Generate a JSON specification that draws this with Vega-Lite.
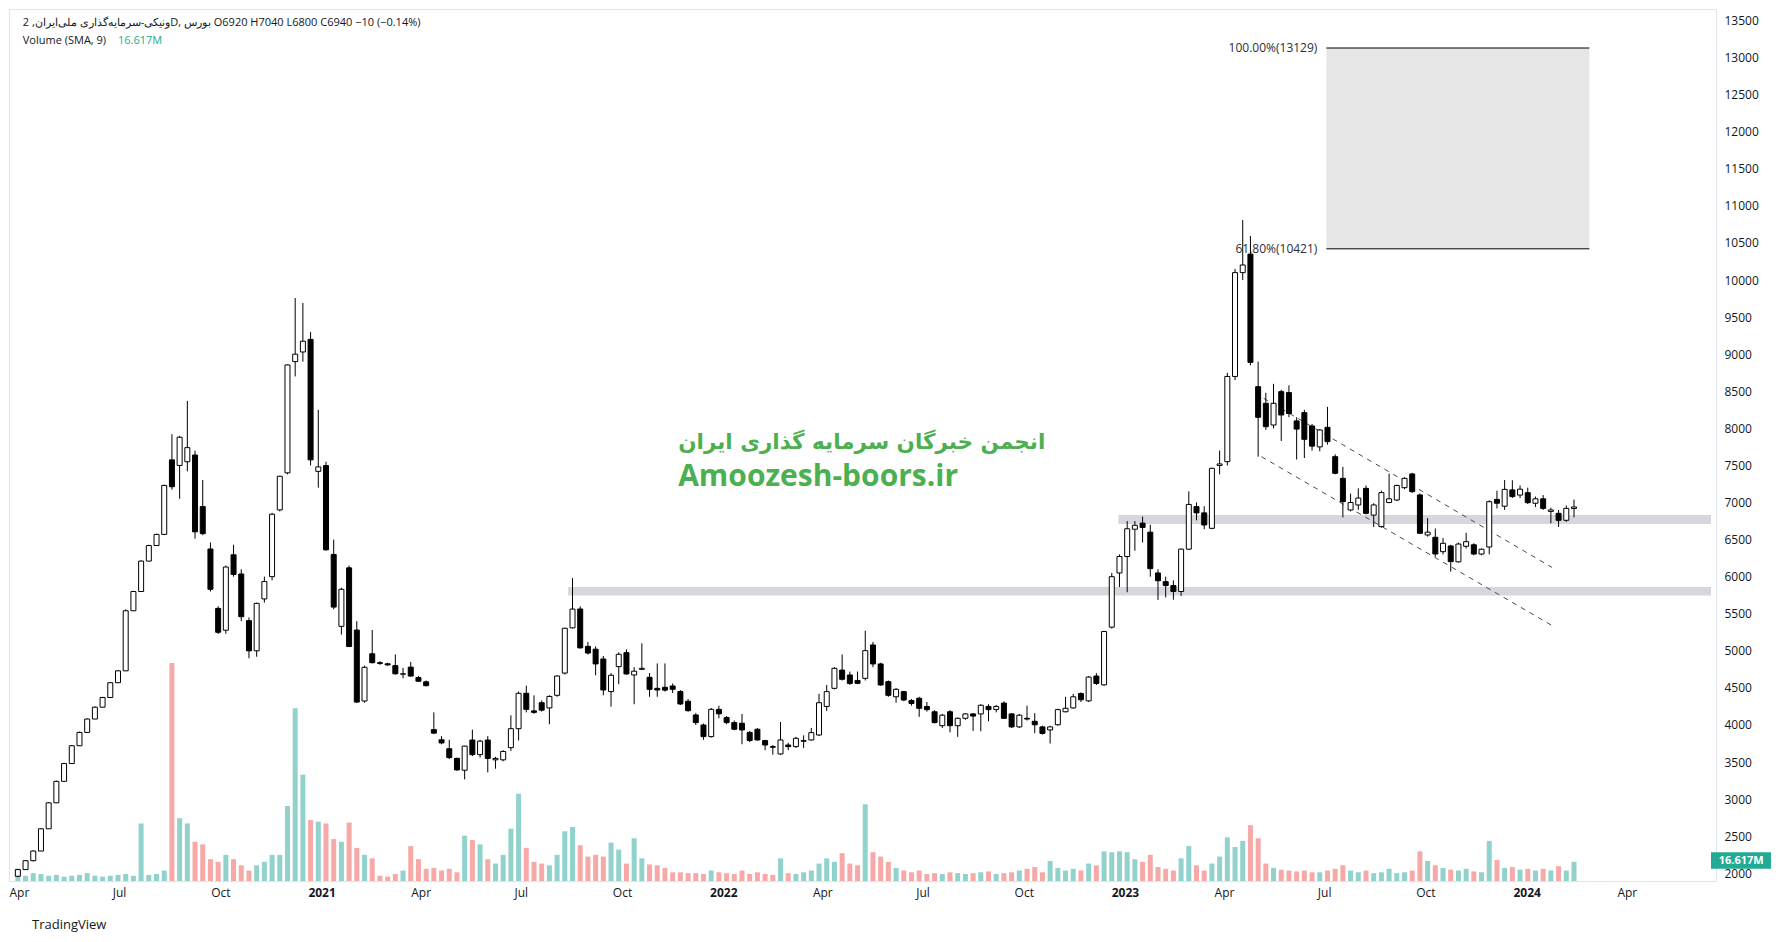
{
"$schema":"https://vega.github.io/schema/vega-lite/v6.json",
"width":1707,"height":872,
"autosize":{"type":"none"},
"padding":{"left":9,"top":9,"right":74,"bottom":61},
"background":"#ffffff",
"config":{"view":{"stroke":"#e0e3eb"},"font":"Open Sans","axis":{"labelOverlap":false,"labelSeparation":0}},
"title":{"text":"TradingView","orient":"bottom","anchor":"start","frame":"group","offset":21,"dx":23,"fontSize":13,"fontWeight":"normal","color":"#131722","font":"Open Sans"},
"datasets":{
"ohlc":[
{"date":"2020-03-31","open":1960,"high":2060,"low":1950,"close":2050,"vol":14},
{"date":"2020-04-07","open":2050,"high":2180,"low":2050,"close":2170,"vol":6},
{"date":"2020-04-14","open":2170,"high":2310,"low":2160,"close":2300,"vol":9},
{"date":"2020-04-21","open":2300,"high":2610,"low":2300,"close":2600,"vol":8},
{"date":"2020-04-28","open":2600,"high":2960,"low":2600,"close":2950,"vol":6},
{"date":"2020-05-05","open":2950,"high":3250,"low":2950,"close":3240,"vol":7},
{"date":"2020-05-12","open":3240,"high":3490,"low":3240,"close":3480,"vol":5},
{"date":"2020-05-19","open":3480,"high":3730,"low":3480,"close":3720,"vol":6},
{"date":"2020-05-26","open":3720,"high":3910,"low":3720,"close":3900,"vol":7},
{"date":"2020-06-02","open":3900,"high":4090,"low":3900,"close":4080,"vol":9},
{"date":"2020-06-09","open":4080,"high":4250,"low":4080,"close":4240,"vol":6},
{"date":"2020-06-16","open":4240,"high":4380,"low":4240,"close":4370,"vol":5},
{"date":"2020-06-23","open":4370,"high":4580,"low":4370,"close":4570,"vol":6},
{"date":"2020-06-30","open":4570,"high":4740,"low":4570,"close":4730,"vol":7},
{"date":"2020-07-07","open":4730,"high":5560,"low":4730,"close":5540,"vol":8},
{"date":"2020-07-14","open":5540,"high":5810,"low":5540,"close":5800,"vol":6},
{"date":"2020-07-21","open":5800,"high":6220,"low":5800,"close":6210,"vol":66},
{"date":"2020-07-28","open":6210,"high":6430,"low":6210,"close":6420,"vol":7},
{"date":"2020-08-04","open":6420,"high":6580,"low":6420,"close":6570,"vol":8},
{"date":"2020-08-11","open":6570,"high":7240,"low":6560,"close":7230,"vol":12},
{"date":"2020-08-18","open":7575,"high":7921,"low":7173,"close":7213,"vol":250},
{"date":"2020-08-25","open":7500,"high":7900,"low":7050,"close":7880,"vol":72},
{"date":"2020-09-01","open":7550,"high":8370,"low":7420,"close":7740,"vol":66},
{"date":"2020-09-08","open":7640,"high":7700,"low":6512,"close":6605,"vol":45},
{"date":"2020-09-15","open":6945,"high":7304,"low":6560,"close":6580,"vol":42},
{"date":"2020-09-22","open":6373,"high":6460,"low":5800,"close":5830,"vol":25},
{"date":"2020-09-29","open":5572,"high":5600,"low":5227,"close":5250,"vol":22},
{"date":"2020-10-06","open":5278,"high":6150,"low":5230,"close":6130,"vol":30},
{"date":"2020-10-13","open":6295,"high":6430,"low":6000,"close":6030,"vol":25},
{"date":"2020-10-20","open":6036,"high":6100,"low":5400,"close":5460,"vol":18},
{"date":"2020-10-27","open":5407,"high":5450,"low":4900,"close":5000,"vol":12},
{"date":"2020-11-03","open":5000,"high":5650,"low":4920,"close":5640,"vol":18},
{"date":"2020-11-10","open":5700,"high":6000,"low":5650,"close":5934,"vol":22},
{"date":"2020-11-17","open":6000,"high":6860,"low":5950,"close":6842,"vol":30},
{"date":"2020-11-24","open":6900,"high":7360,"low":6880,"close":7354,"vol":30},
{"date":"2020-12-01","open":7400,"high":8860,"low":7380,"close":8855,"vol":86},
{"date":"2020-12-08","open":8900,"high":9758,"low":8700,"close":9000,"vol":198},
{"date":"2020-12-15","open":9030,"high":9690,"low":8900,"close":9175,"vol":122},
{"date":"2020-12-22","open":9200,"high":9300,"low":7500,"close":7575,"vol":70},
{"date":"2020-12-29","open":7420,"high":8250,"low":7200,"close":7480,"vol":68},
{"date":"2021-01-05","open":7498,"high":7550,"low":6350,"close":6362,"vol":66},
{"date":"2021-01-12","open":6300,"high":6500,"low":5560,"close":5590,"vol":48},
{"date":"2021-01-19","open":5330,"high":5850,"low":5220,"close":5830,"vol":45},
{"date":"2021-01-26","open":6119,"high":6150,"low":5050,"close":5058,"vol":67},
{"date":"2021-02-02","open":5280,"high":5400,"low":4300,"close":4309,"vol":38},
{"date":"2021-02-09","open":4323,"high":4800,"low":4300,"close":4778,"vol":30},
{"date":"2021-02-16","open":4960,"high":5280,"low":4830,"close":4840,"vol":26},
{"date":"2021-02-23","open":4840,"high":4860,"low":4810,"close":4830,"vol":6},
{"date":"2021-03-02","open":4825,"high":4840,"low":4800,"close":4810,"vol":5},
{"date":"2021-03-09","open":4800,"high":4950,"low":4680,"close":4690,"vol":8},
{"date":"2021-03-16","open":4685,"high":4770,"low":4630,"close":4690,"vol":12},
{"date":"2021-03-23","open":4780,"high":4850,"low":4650,"close":4660,"vol":40},
{"date":"2021-03-30","open":4640,"high":4660,"low":4580,"close":4590,"vol":25},
{"date":"2021-04-06","open":4582,"high":4600,"low":4520,"close":4530,"vol":14},
{"date":"2021-04-13","open":3937,"high":4170,"low":3880,"close":3890,"vol":15},
{"date":"2021-04-20","open":3800,"high":3850,"low":3740,"close":3758,"vol":12},
{"date":"2021-04-27","open":3680,"high":3800,"low":3540,"close":3560,"vol":14},
{"date":"2021-05-04","open":3550,"high":3560,"low":3380,"close":3394,"vol":10},
{"date":"2021-05-11","open":3390,"high":3720,"low":3266,"close":3715,"vol":52},
{"date":"2021-05-18","open":3797,"high":3937,"low":3580,"close":3600,"vol":47},
{"date":"2021-05-25","open":3600,"high":3800,"low":3560,"close":3782,"vol":42},
{"date":"2021-06-01","open":3797,"high":3850,"low":3360,"close":3549,"vol":25},
{"date":"2021-06-08","open":3530,"high":3570,"low":3410,"close":3549,"vol":20},
{"date":"2021-06-15","open":3530,"high":3660,"low":3510,"close":3643,"vol":30},
{"date":"2021-06-22","open":3694,"high":4130,"low":3650,"close":3950,"vol":60},
{"date":"2021-06-29","open":3950,"high":4450,"low":3790,"close":4427,"vol":100},
{"date":"2021-07-06","open":4427,"high":4530,"low":4170,"close":4210,"vol":38},
{"date":"2021-07-13","open":4190,"high":4400,"low":4150,"close":4170,"vol":22},
{"date":"2021-07-20","open":4300,"high":4330,"low":4180,"close":4200,"vol":20},
{"date":"2021-07-27","open":4230,"high":4400,"low":4010,"close":4385,"vol":18},
{"date":"2021-08-03","open":4400,"high":4670,"low":4380,"close":4660,"vol":30},
{"date":"2021-08-10","open":4700,"high":5310,"low":4680,"close":5304,"vol":57},
{"date":"2021-08-17","open":5310,"high":5980,"low":5300,"close":5563,"vol":62},
{"date":"2021-08-24","open":5564,"high":5600,"low":5030,"close":5040,"vol":41},
{"date":"2021-08-31","open":5060,"high":5120,"low":4950,"close":4970,"vol":28},
{"date":"2021-09-07","open":5022,"high":5060,"low":4670,"close":4823,"vol":30},
{"date":"2021-09-14","open":4890,"high":4930,"low":4400,"close":4472,"vol":28},
{"date":"2021-09-21","open":4450,"high":4700,"low":4247,"close":4670,"vol":44},
{"date":"2021-09-28","open":4787,"high":4980,"low":4550,"close":4953,"vol":36},
{"date":"2021-10-05","open":4975,"high":5020,"low":4680,"close":4688,"vol":20},
{"date":"2021-10-12","open":4674,"high":4780,"low":4280,"close":4725,"vol":49},
{"date":"2021-10-19","open":4750,"high":5101,"low":4740,"close":4764,"vol":26},
{"date":"2021-10-26","open":4643,"high":4700,"low":4380,"close":4481,"vol":19},
{"date":"2021-11-02","open":4494,"high":4830,"low":4380,"close":4472,"vol":18},
{"date":"2021-11-09","open":4508,"high":4830,"low":4450,"close":4470,"vol":15},
{"date":"2021-11-16","open":4526,"high":4560,"low":4430,"close":4481,"vol":10},
{"date":"2021-11-23","open":4450,"high":4470,"low":4270,"close":4283,"vol":10},
{"date":"2021-11-30","open":4320,"high":4350,"low":4180,"close":4193,"vol":9},
{"date":"2021-12-07","open":4135,"high":4160,"low":4000,"close":4032,"vol":9},
{"date":"2021-12-14","open":4000,"high":4020,"low":3800,"close":3843,"vol":8},
{"date":"2021-12-21","open":3843,"high":4230,"low":3830,"close":4211,"vol":12},
{"date":"2021-12-28","open":4211,"high":4260,"low":4090,"close":4150,"vol":10},
{"date":"2022-01-04","open":4100,"high":4120,"low":4010,"close":4032,"vol":9},
{"date":"2022-01-11","open":4032,"high":4060,"low":3930,"close":3942,"vol":8},
{"date":"2022-01-18","open":4023,"high":4148,"low":3740,"close":3933,"vol":12},
{"date":"2022-01-25","open":3900,"high":3920,"low":3770,"close":3790,"vol":8},
{"date":"2022-02-01","open":3942,"high":3960,"low":3790,"close":3798,"vol":10},
{"date":"2022-02-08","open":3790,"high":3800,"low":3660,"close":3730,"vol":8},
{"date":"2022-02-15","open":3708,"high":3730,"low":3600,"close":3700,"vol":7},
{"date":"2022-02-22","open":3609,"high":4040,"low":3600,"close":3798,"vol":26},
{"date":"2022-03-01","open":3730,"high":3760,"low":3660,"close":3708,"vol":9},
{"date":"2022-03-08","open":3708,"high":3840,"low":3690,"close":3820,"vol":8},
{"date":"2022-03-15","open":3780,"high":3860,"low":3690,"close":3789,"vol":10},
{"date":"2022-03-22","open":3798,"high":3960,"low":3790,"close":3897,"vol":12},
{"date":"2022-03-29","open":3865,"high":4420,"low":3850,"close":4300,"vol":20},
{"date":"2022-04-05","open":4250,"high":4540,"low":4190,"close":4450,"vol":26},
{"date":"2022-04-12","open":4494,"high":4780,"low":4480,"close":4764,"vol":22},
{"date":"2022-04-19","open":4740,"high":4950,"low":4600,"close":4616,"vol":32},
{"date":"2022-04-26","open":4674,"high":4720,"low":4540,"close":4560,"vol":20},
{"date":"2022-05-03","open":4600,"high":4720,"low":4550,"close":4562,"vol":18},
{"date":"2022-05-10","open":4629,"high":5272,"low":4600,"close":5002,"vol":88},
{"date":"2022-05-17","open":5079,"high":5120,"low":4780,"close":4823,"vol":33},
{"date":"2022-05-24","open":4823,"high":4840,"low":4530,"close":4539,"vol":28},
{"date":"2022-05-31","open":4584,"high":4600,"low":4380,"close":4400,"vol":22},
{"date":"2022-06-07","open":4380,"high":4500,"low":4300,"close":4481,"vol":15},
{"date":"2022-06-14","open":4450,"high":4460,"low":4320,"close":4337,"vol":12},
{"date":"2022-06-21","open":4330,"high":4350,"low":4260,"close":4290,"vol":10},
{"date":"2022-06-28","open":4360,"high":4380,"low":4110,"close":4225,"vol":12},
{"date":"2022-07-05","open":4250,"high":4310,"low":4180,"close":4207,"vol":8},
{"date":"2022-07-12","open":4178,"high":4200,"low":4020,"close":4032,"vol":9},
{"date":"2022-07-19","open":3990,"high":4150,"low":3960,"close":4132,"vol":8},
{"date":"2022-07-26","open":4178,"high":4200,"low":3900,"close":3990,"vol":10},
{"date":"2022-08-02","open":3990,"high":4100,"low":3840,"close":4090,"vol":9},
{"date":"2022-08-09","open":4090,"high":4160,"low":4070,"close":4149,"vol":8},
{"date":"2022-08-16","open":4149,"high":4160,"low":3920,"close":4120,"vol":9},
{"date":"2022-08-23","open":4149,"high":4280,"low":3915,"close":4266,"vol":10},
{"date":"2022-08-30","open":4250,"high":4280,"low":4050,"close":4207,"vol":11},
{"date":"2022-09-06","open":4210,"high":4270,"low":4170,"close":4250,"vol":8},
{"date":"2022-09-13","open":4295,"high":4320,"low":4080,"close":4090,"vol":9},
{"date":"2022-09-20","open":4149,"high":4160,"low":3960,"close":3974,"vol":10},
{"date":"2022-09-27","open":3974,"high":4150,"low":3960,"close":4132,"vol":12},
{"date":"2022-10-04","open":4090,"high":4260,"low":4060,"close":4080,"vol":14},
{"date":"2022-10-11","open":4050,"high":4160,"low":3890,"close":4003,"vol":16},
{"date":"2022-10-18","open":3974,"high":3990,"low":3870,"close":3886,"vol":10},
{"date":"2022-10-25","open":3933,"high":3990,"low":3750,"close":3974,"vol":23},
{"date":"2022-11-01","open":4003,"high":4220,"low":3990,"close":4207,"vol":15},
{"date":"2022-11-08","open":4178,"high":4380,"low":4170,"close":4225,"vol":12},
{"date":"2022-11-15","open":4230,"high":4420,"low":4220,"close":4380,"vol":14},
{"date":"2022-11-22","open":4424,"high":4440,"low":4310,"close":4340,"vol":12},
{"date":"2022-11-29","open":4325,"high":4660,"low":4310,"close":4646,"vol":20},
{"date":"2022-12-06","open":4660,"high":4700,"low":4540,"close":4560,"vol":18},
{"date":"2022-12-13","open":4541,"high":5270,"low":4530,"close":5260,"vol":34},
{"date":"2022-12-20","open":5319,"high":6050,"low":5300,"close":6000,"vol":33},
{"date":"2022-12-27","open":6050,"high":6300,"low":5860,"close":6272,"vol":34},
{"date":"2023-01-03","open":6272,"high":6750,"low":5790,"close":6646,"vol":33},
{"date":"2023-01-10","open":6640,"high":6750,"low":6350,"close":6693,"vol":25},
{"date":"2023-01-17","open":6722,"high":6810,"low":6460,"close":6664,"vol":22},
{"date":"2023-01-24","open":6600,"high":6700,"low":6000,"close":6108,"vol":30},
{"date":"2023-01-31","open":6050,"high":6100,"low":5687,"close":5945,"vol":16},
{"date":"2023-02-07","open":5933,"high":6000,"low":5720,"close":5880,"vol":14},
{"date":"2023-02-14","open":5880,"high":5950,"low":5690,"close":5800,"vol":12},
{"date":"2023-02-21","open":5800,"high":6380,"low":5740,"close":6371,"vol":26},
{"date":"2023-02-28","open":6371,"high":7150,"low":6360,"close":6974,"vol":40},
{"date":"2023-03-07","open":6944,"high":7000,"low":6760,"close":6860,"vol":18},
{"date":"2023-03-14","open":6860,"high":6950,"low":6640,"close":6697,"vol":12},
{"date":"2023-03-21","open":6652,"high":7470,"low":6640,"close":7461,"vol":20},
{"date":"2023-03-28","open":7500,"high":7700,"low":7380,"close":7520,"vol":28},
{"date":"2023-04-04","open":7551,"high":8750,"low":7500,"close":8700,"vol":50},
{"date":"2023-04-11","open":8700,"high":10150,"low":8650,"close":10100,"vol":39},
{"date":"2023-04-18","open":10100,"high":10810,"low":10000,"close":10203,"vol":46},
{"date":"2023-04-25","open":10350,"high":10594,"low":8850,"close":8890,"vol":64},
{"date":"2023-05-02","open":8562,"high":8900,"low":7618,"close":8149,"vol":49},
{"date":"2023-05-09","open":8338,"high":8480,"low":7980,"close":8023,"vol":20},
{"date":"2023-05-16","open":8045,"high":8600,"low":8000,"close":8338,"vol":15},
{"date":"2023-05-23","open":8495,"high":8520,"low":7830,"close":8180,"vol":13},
{"date":"2023-05-30","open":8482,"high":8580,"low":8150,"close":8200,"vol":12},
{"date":"2023-06-06","open":8100,"high":8150,"low":7580,"close":7990,"vol":11},
{"date":"2023-06-13","open":8212,"high":8250,"low":7600,"close":7852,"vol":12},
{"date":"2023-06-20","open":8032,"high":8060,"low":7700,"close":7760,"vol":10},
{"date":"2023-06-27","open":7750,"high":7990,"low":7690,"close":7978,"vol":10},
{"date":"2023-07-04","open":8014,"high":8290,"low":7780,"close":7821,"vol":12},
{"date":"2023-07-11","open":7618,"high":7650,"low":7380,"close":7394,"vol":14},
{"date":"2023-07-18","open":7326,"high":7480,"low":6800,"close":7012,"vol":18},
{"date":"2023-07-25","open":6899,"high":7120,"low":6880,"close":7000,"vol":12},
{"date":"2023-08-01","open":6967,"high":7191,"low":6900,"close":7060,"vol":10},
{"date":"2023-08-08","open":7191,"high":7230,"low":6840,"close":6854,"vol":12},
{"date":"2023-08-15","open":6830,"high":6990,"low":6670,"close":6967,"vol":9},
{"date":"2023-08-22","open":6675,"high":7160,"low":6660,"close":7133,"vol":10},
{"date":"2023-08-29","open":7000,"high":7390,"low":6990,"close":7050,"vol":14},
{"date":"2023-09-05","open":7034,"high":7240,"low":7020,"close":7230,"vol":9},
{"date":"2023-09-12","open":7200,"high":7340,"low":7180,"close":7326,"vol":10},
{"date":"2023-09-19","open":7385,"high":7400,"low":7130,"close":7146,"vol":12},
{"date":"2023-09-26","open":7102,"high":7120,"low":6580,"close":6585,"vol":34},
{"date":"2023-10-03","open":6562,"high":6790,"low":6540,"close":6600,"vol":23},
{"date":"2023-10-10","open":6531,"high":6650,"low":6270,"close":6306,"vol":18},
{"date":"2023-10-17","open":6337,"high":6520,"low":6300,"close":6450,"vol":15},
{"date":"2023-10-24","open":6414,"high":6430,"low":6068,"close":6203,"vol":13},
{"date":"2023-10-31","open":6200,"high":6460,"low":6190,"close":6440,"vol":12},
{"date":"2023-11-07","open":6410,"high":6590,"low":6380,"close":6472,"vol":14},
{"date":"2023-11-14","open":6430,"high":6450,"low":6290,"close":6305,"vol":11},
{"date":"2023-11-21","open":6305,"high":6380,"low":6290,"close":6370,"vol":10},
{"date":"2023-11-28","open":6400,"high":7030,"low":6300,"close":7011,"vol":46},
{"date":"2023-12-05","open":7042,"high":7159,"low":6920,"close":6990,"vol":24},
{"date":"2023-12-12","open":6950,"high":7303,"low":6900,"close":7177,"vol":15},
{"date":"2023-12-19","open":7170,"high":7300,"low":7060,"close":7080,"vol":16},
{"date":"2023-12-26","open":7100,"high":7230,"low":7060,"close":7180,"vol":13},
{"date":"2024-01-02","open":7132,"high":7200,"low":6980,"close":6998,"vol":14},
{"date":"2024-01-09","open":6990,"high":7080,"low":6940,"close":7050,"vol":12},
{"date":"2024-01-16","open":7050,"high":7100,"low":6900,"close":6921,"vol":14},
{"date":"2024-01-23","open":6880,"high":6930,"low":6720,"close":6900,"vol":12},
{"date":"2024-01-30","open":6854,"high":6900,"low":6670,"close":6760,"vol":17},
{"date":"2024-02-06","open":6760,"high":6960,"low":6740,"close":6921,"vol":12},
{"date":"2024-02-13","open":6920,"high":7040,"low":6800,"close":6940,"vol":22}
],
"bands":[
{"start":"2022-12-26","end":"2024-06-16T12:00:00Z","low":6710,"high":6830},
{"start":"2021-08-13","end":"2024-06-16T12:00:00Z","low":5745,"high":5860}
],
"fibzone":[{"start":"2023-07-03","end":"2024-02-27","low":10421,"high":13129}],
"fib":[
{"start":"2023-07-03","end":"2024-02-27","level":13129,"label":"100.00%(13129)"},
{"start":"2023-07-03","end":"2024-02-27","level":10421,"label":"61.80%(10421)"}
],
"channels":[
{"start":"2023-05-07","end":"2024-01-24","from":8405,"to":6125},
{"start":"2023-05-05","end":"2024-01-26","from":7618,"to":5325}
]
},
"resolve":{"scale":{"y":"independent"}},
"layer":[
{"layer":[
 {"data":{"name":"ohlc"},
  "mark":{"type":"bar","width":5},
  "encoding":{
   "x":{"field":"date","type":"temporal","title":null,
     "scale":{"type":"utc","domain":[{"year":2020,"month":3,"date":27,"hours":12,"utc":true},{"year":2024,"month":6,"date":16,"hours":12,"utc":true}]},
     "axis":{"values":[
       {"year":2020,"month":4,"date":1,"utc":true},{"year":2020,"month":7,"date":1,"utc":true},{"year":2020,"month":10,"date":1,"utc":true},
       {"year":2021,"month":1,"date":1,"utc":true},{"year":2021,"month":4,"date":1,"utc":true},{"year":2021,"month":7,"date":1,"utc":true},{"year":2021,"month":10,"date":1,"utc":true},
       {"year":2022,"month":1,"date":1,"utc":true},{"year":2022,"month":4,"date":1,"utc":true},{"year":2022,"month":7,"date":1,"utc":true},{"year":2022,"month":10,"date":1,"utc":true},
       {"year":2023,"month":1,"date":1,"utc":true},{"year":2023,"month":4,"date":1,"utc":true},{"year":2023,"month":7,"date":1,"utc":true},{"year":2023,"month":10,"date":1,"utc":true},
       {"year":2024,"month":1,"date":1,"utc":true},{"year":2024,"month":4,"date":1,"utc":true}],
       "labelExpr":"utcmonth(datum.value) == 0 ? utcFormat(datum.value, '%Y') : utcFormat(datum.value, '%b')",
       "labelFontWeight":{"condition":{"test":"utcmonth(datum.value) == 0","value":"bold"},"value":"normal"},
       "ticks":false,"grid":false,"domain":false,"labelFlush":false,"labelOverlap":false,
       "labelFontSize":12,"labelColor":"#131722","labelPadding":6,"labelFont":"Open Sans"}},
   "y":{"field":"vol","type":"quantitative","title":null,"scale":{"domain":[0,1000],"nice":false},"axis":null},
   "color":{"condition":{"test":"datum.close >= datum.open","value":"#92d2cc"},"value":"#f7a9a7"}}},
 {"data":{"values":[{}]},
  "mark":{"type":"rect","color":"#22ab94"},
  "encoding":{
   "x":{"datum":{"year":2024,"month":6,"date":16,"hours":12,"utc":true},"type":"temporal","scale":{"type":"utc"}},
   "x2":{"datum":{"year":2024,"month":8,"date":10,"utc":true}},
   "y":{"datum":33,"type":"quantitative"},
   "y2":{"datum":14}}},
 {"data":{"values":[{}]},
  "mark":{"type":"text","color":"#ffffff","fontWeight":"bold","fontSize":11,"font":"Open Sans","align":"center","baseline":"middle"},
  "encoding":{
   "x":{"datum":{"year":2024,"month":7,"date":14,"utc":true},"type":"temporal","scale":{"type":"utc"}},
   "y":{"datum":23.5,"type":"quantitative"},
   "text":{"value":"16.617M"}}}
]},
{"layer":[
 {"data":{"name":"bands"},
  "mark":{"type":"rect","color":"#d6d7dd"},
  "encoding":{
   "x":{"field":"start","type":"temporal","title":null,"scale":{"type":"utc"}},
   "x2":{"field":"end"},
   "y":{"field":"low","type":"quantitative","title":null,
     "scale":{"domain":[1896,13655],"nice":false,"zero":false},
     "axis":{"orient":"right","tickCount":30,"tickMinStep":500,
       "format":"d","ticks":false,"grid":false,"domain":false,"labelFontSize":12,"labelColor":"#131722","labelPadding":8,"labelFont":"Open Sans","labelFlush":false,"labelOverlap":false,"labelSeparation":0}},
   "y2":{"field":"high"}}},
 {"data":{"name":"fibzone"},
  "mark":{"type":"rect","color":"#e6e6e6"},
  "encoding":{
   "x":{"field":"start","type":"temporal","title":null,"scale":{"type":"utc"}},
   "x2":{"field":"end"},
   "y":{"field":"low","type":"quantitative","title":null},
   "y2":{"field":"high"}}},
 {"data":{"name":"fib"},
  "mark":{"type":"rule","color":"#000000","strokeWidth":1},
  "encoding":{
   "x":{"field":"start","type":"temporal","title":null,"scale":{"type":"utc"}},
   "x2":{"field":"end"},
   "y":{"field":"level","type":"quantitative","title":null}}},
 {"data":{"name":"fib"},
  "mark":{"type":"text","align":"right","baseline":"middle","dx":-9,"fontSize":12,"font":"Open Sans","color":"#2a2e39"},
  "encoding":{
   "x":{"field":"start","type":"temporal","title":null,"scale":{"type":"utc"}},
   "y":{"field":"level","type":"quantitative","title":null},
   "text":{"field":"label"}}},
 {"data":{"name":"channels"},
  "mark":{"type":"rule","color":"#4a4a4a","strokeWidth":1,"strokeDash":[5,5]},
  "encoding":{
   "x":{"field":"start","type":"temporal","title":null,"scale":{"type":"utc"}},
   "x2":{"field":"end"},
   "y":{"field":"from","type":"quantitative","title":null},
   "y2":{"field":"to"}}},
 {"data":{"name":"ohlc"},
  "mark":{"type":"rule","color":"#000000","strokeWidth":1},
  "encoding":{
   "x":{"field":"date","type":"temporal","title":null,"scale":{"type":"utc"}},
   "y":{"field":"low","type":"quantitative","title":null},
   "y2":{"field":"high"}}},
 {"data":{"name":"ohlc"},
  "mark":{"type":"bar","width":5,"stroke":"#000000","strokeWidth":1},
  "encoding":{
   "x":{"field":"date","type":"temporal","title":null,"scale":{"type":"utc"}},
   "y":{"field":"open","type":"quantitative","title":null},
   "y2":{"field":"close"},
   "fill":{"condition":{"test":"datum.close >= datum.open","value":"#ffffff"},"value":"#000000"}}},
 {"data":{"values":[{}]},
  "mark":{"type":"text","align":"left","baseline":"middle","fontSize":21.5,"fontWeight":"bold","font":"DejaVu Sans","color":"#4caf50"},
  "encoding":{
   "x":{"datum":{"year":2021,"month":11,"date":21,"utc":true},"type":"temporal","scale":{"type":"utc"}},
   "y":{"datum":7803,"type":"quantitative"},
   "text":{"value":"انجمن خبرگان سرمایه گذاری ایران"}}},
 {"data":{"values":[{}]},
  "mark":{"type":"text","align":"left","baseline":"middle","fontSize":30,"fontWeight":"bold","font":"Open Sans","color":"#4caf50"},
  "encoding":{
   "x":{"datum":{"year":2021,"month":11,"date":21,"utc":true},"type":"temporal","scale":{"type":"utc"}},
   "y":{"datum":7344,"type":"quantitative"},
   "text":{"value":"Amoozesh-boors.ir"}}},
 {"data":{"values":[{}]},
  "mark":{"type":"text","align":"left","baseline":"middle","fontSize":11,"font":"Open Sans","color":"#131722"},
  "encoding":{
   "x":{"datum":{"year":2020,"month":4,"date":4,"hours":12,"utc":true},"type":"temporal","scale":{"type":"utc"}},
   "y":{"datum":13466,"type":"quantitative"},
   "text":{"value":"ونیکی-سرمایه‌گذاری ملی‌ایران, 2D, بورس   O6920  H7040  L6800  C6940  −10 (−0.14%)"}}},
 {"data":{"values":[{}]},
  "mark":{"type":"text","align":"left","baseline":"middle","fontSize":11,"font":"Open Sans","color":"#131722"},
  "encoding":{
   "x":{"datum":{"year":2020,"month":4,"date":4,"hours":12,"utc":true},"type":"temporal","scale":{"type":"utc"}},
   "y":{"datum":13224,"type":"quantitative"},
   "text":{"value":"Volume (SMA, 9)"}}},
 {"data":{"values":[{}]},
  "mark":{"type":"text","align":"left","baseline":"middle","fontSize":11,"font":"Open Sans","color":"#22ab94"},
  "encoding":{
   "x":{"datum":{"year":2020,"month":6,"date":30,"utc":true},"type":"temporal","scale":{"type":"utc"}},
   "y":{"datum":13224,"type":"quantitative"},
   "text":{"value":"16.617M"}}}
]}
]
}
